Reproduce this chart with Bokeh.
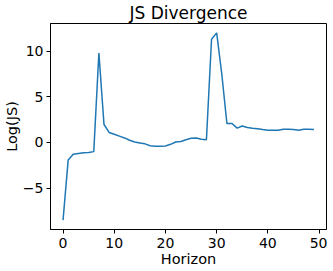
from bokeh.plotting import figure
from bokeh.models import FixedTicker, Range1d
from bokeh.embed import file_html
from bokeh.resources import INLINE

horizon = list(range(50))
log_js = [-8.5, -1.93, -1.3, -1.2, -1.13, -1.1, -1.0, 9.8, 1.97, 1.1,
          0.9, 0.7, 0.5, 0.25, 0.05, -0.05, -0.15, -0.35, -0.4, -0.4,
          -0.38, -0.2, 0.05, 0.1, 0.3, 0.47, 0.5, 0.35, 0.3, 11.3,
          12.0, 7.5, 2.08, 2.08, 1.57, 1.8, 1.65, 1.57, 1.5, 1.42,
          1.35, 1.35, 1.35, 1.45, 1.45, 1.42, 1.35, 1.45, 1.45, 1.42]
x_ticks = [0, 10, 20, 30, 40, 50]
y_ticks = [-5, 0, 5, 10]
y_labels = {-5: "\u22125", 0: "0", 5: "5", 10: "10"}

FONT = "DejaVu Sans"

p = figure(frame_width=276, frame_height=206, output_backend="svg",
           toolbar_location=None, title="JS Divergence",
           x_range=Range1d(-2.45, 51.45), y_range=Range1d(-9.525, 13.025),
           min_border_left=41, min_border_right=1, min_border_top=15,
           min_border_bottom=34)

p.line(horizon, log_js, line_color="#1f77b4", line_width=1.5)

p.title.align = "center"
p.title.text_font = FONT
p.title.text_font_size = "17px"
p.title.text_font_style = "normal"
p.title.text_color = "black"
p.title.standoff = 1
p.title.offset = 0

p.xgrid.visible = False
p.ygrid.visible = False
p.outline_line_color = "black"
p.outline_line_width = 1
p.outline_line_alpha = 1

for ax in (p.xaxis[0], p.yaxis[0]):
    ax.axis_line_color = "black"
    ax.major_tick_line_color = "black"
    ax.major_tick_in = 0
    ax.major_tick_out = 4
    ax.minor_tick_line_color = None
    ax.major_label_text_font = FONT
    ax.major_label_text_font_size = "14px"
    ax.major_label_text_color = "black"
    ax.axis_label_text_font = FONT
    ax.axis_label_text_font_size = "14.5px"
    ax.axis_label_text_font_style = "normal"
    ax.axis_label_text_color = "black"

p.xaxis[0].ticker = FixedTicker(ticks=x_ticks)
p.yaxis[0].ticker = FixedTicker(ticks=y_ticks)
p.yaxis[0].major_label_overrides = y_labels
p.xaxis[0].axis_label = "Horizon"
p.yaxis[0].axis_label = "Log(JS)"
p.xaxis[0].axis_label_standoff = 0
p.yaxis[0].axis_label_standoff = 0
p.xaxis[0].major_label_standoff = 4
p.yaxis[0].major_label_standoff = 3

open("out.html", "w").write(file_html(p, INLINE))
